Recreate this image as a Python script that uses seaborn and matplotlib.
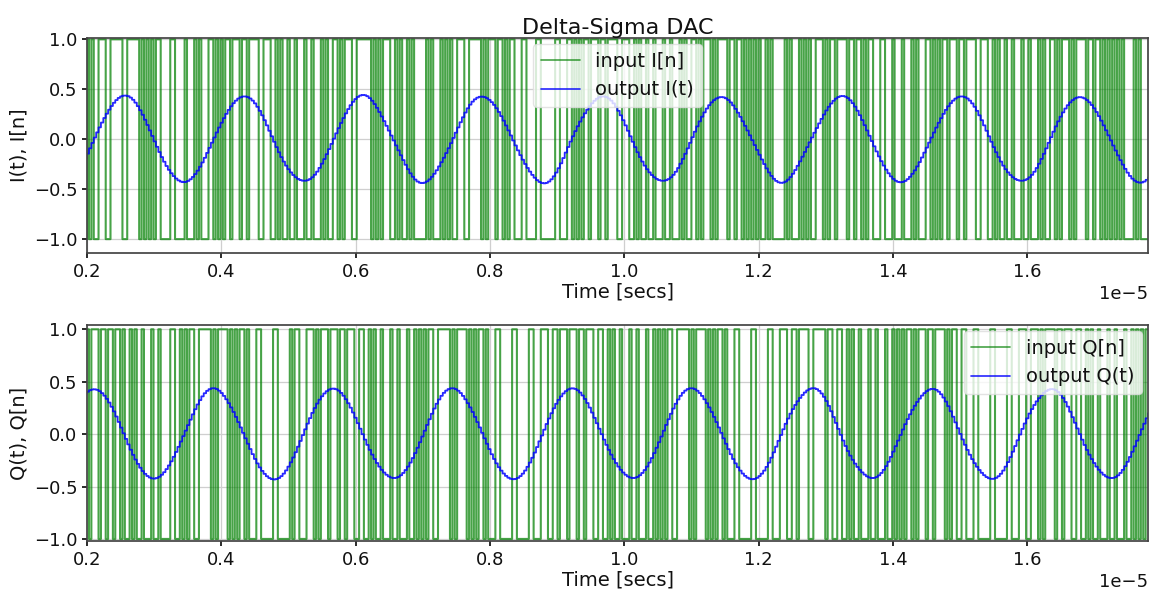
import numpy as np
import pandas as pd
import matplotlib
matplotlib.use("Agg")
import matplotlib.pyplot as plt
import seaborn as sns

# Test tone and converter settings
tone_period = 0.178e-5          # seconds per cycle of the test tone
tone_amplitude = [0.42]         # recovered output amplitude
i_peak_time = [0.25e-5]         # first I(t) maximum inside the window
samples_per_period = [50]       # oversampling of the 1-bit stream
t_stop = 1.90e-5
x_window = [0.2e-5, 1.78e-5]
y_ticks = [-1.0, -0.5, 0.0, 0.5, 1.0]

fs = samples_per_period[0] / tone_period
n = np.arange(int(t_stop * fs))
t = n / fs
w0 = 2 * np.pi / tone_period


def reconstruction_filter(num_taps=41, cutoff=2.1):
    # Hann-windowed sinc low-pass, cutoff given in multiples of the tone frequency
    fc = cutoff / samples_per_period[0]
    k = np.arange(num_taps) - (num_taps - 1) / 2
    h = 2 * fc * np.sinc(2 * fc * k) * np.hanning(num_taps)
    return h / h.sum()


taps = reconstruction_filter()
centre = np.arange(len(taps)) - (len(taps) - 1) / 2
gain = abs(np.sum(taps * np.exp(-2j * np.pi / samples_per_period[0] * centre)))


def delta_sigma(x):
    # second-order 1-bit modulator
    u1, u2 = 0.0, 0.0
    bits = np.empty_like(x)
    for idx, xv in enumerate(x):
        y = 1.0 if u2 >= 0 else -1.0
        u1 += xv - y
        u2 += u1 - y
        bits[idx] = y
    return bits


amp_in = tone_amplitude[0] / gain
i_in = amp_in * np.cos(w0 * (t - i_peak_time[0]))
q_in = amp_in * np.cos(w0 * (t - i_peak_time[0] + tone_period / 4))

i_bits = delta_sigma(i_in)
q_bits = delta_sigma(q_in)
i_out = np.convolve(i_bits, taps, mode="same")
q_out = np.convolve(q_bits, taps, mode="same")

df_i = pd.DataFrame({"t": t, "bits": i_bits, "out": i_out})
df_q = pd.DataFrame({"t": t, "bits": q_bits, "out": q_out})

sns.set_theme(style="ticks", rc={"axes.grid": True})
plt.rcParams["font.family"] = ["DejaVu Sans"]
plt.rcParams["grid.color"] = "#cfcfcf"
plt.rcParams["grid.linewidth"] = 0.9
plt.rcParams["axes.edgecolor"] = "#444444"
plt.rcParams["text.color"] = "#111111"
plt.rcParams["xtick.color"] = "#111111"
plt.rcParams["ytick.color"] = "#111111"
plt.rcParams["axes.labelcolor"] = "#111111"

fig = plt.figure(figsize=(11.51, 5.90), dpi=100)
ax1 = fig.add_axes([0.0756, 0.571, 0.9218, 0.3644])
ax2 = fig.add_axes([0.0756, 0.083, 0.9218, 0.366])

panels = [
    (ax1, df_i, "input I[n]", "output I(t)", "I(t), I[n]", "upper center", (-1.14, 1.012)),
    (ax2, df_q, "input Q[n]", "output Q(t)", "Q(t), Q[n]", "upper right", (-1.02, 1.04)),
]

for ax, df, lab_in, lab_out, ylab, loc, ylim in panels:
    sns.lineplot(data=df, x="t", y="bits", ax=ax, color="green", alpha=0.72,
                 linewidth=1.5, drawstyle="steps-post", estimator=None,
                 sort=False, label=lab_in)
    sns.lineplot(data=df, x="t", y="out", ax=ax, color="blue", alpha=0.85,
                 linewidth=1.3, drawstyle="steps-post", estimator=None,
                 sort=False, label=lab_out)
    ax.set_xlim(*x_window)
    ax.set_ylim(*ylim)
    ax.set_yticks(y_ticks)
    ax.set_xlabel("Time [secs]", fontsize=14, labelpad=1)
    ax.set_ylabel(ylab, fontsize=14)
    ax.tick_params(labelsize=13, length=3.5)
    ax.xaxis.get_offset_text().set_fontsize(13)
    leg = ax.legend(loc=loc, fontsize=14, framealpha=0.8, edgecolor="#dddddd",
                    borderaxespad=0.3)
    for line in leg.get_lines():
        line.set_linewidth(1.2)
    ax.grid(True)

ax1.set_title("Delta-Sigma DAC", fontsize=16, pad=2)

fig.savefig("out.png", dpi=100)
